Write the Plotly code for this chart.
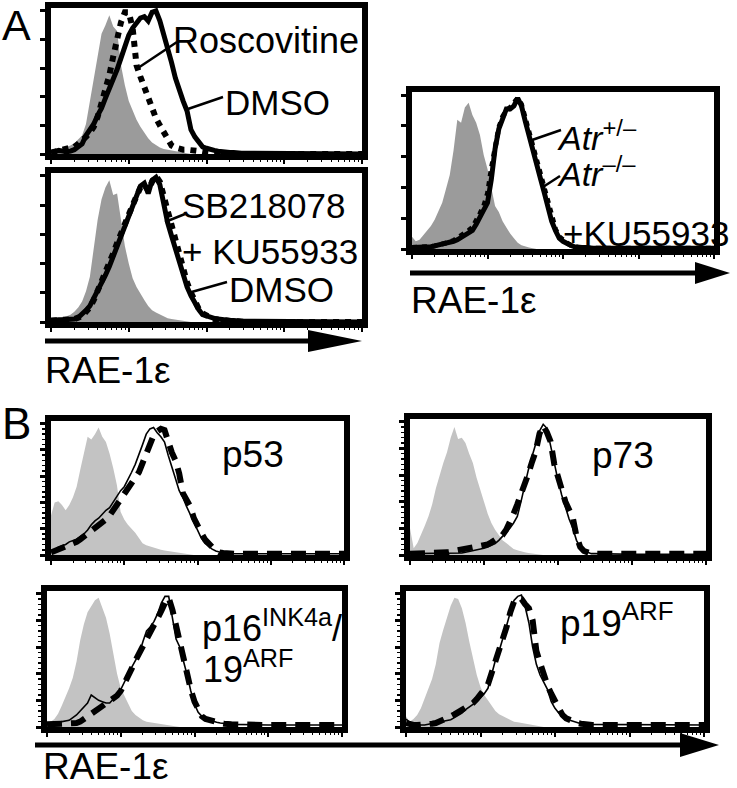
import math
import plotly.graph_objects as go

W, H = 737, 788
FONT = "Liberation Sans, Arial, sans-serif"

# ---------------- data (x = log10 RAE-1e fluorescence, y = % of max) ----------------
log_rae1e = [0.00, 0.05, 0.10, 0.15, 0.20, 0.25, 0.30, 0.35, 0.40, 0.45,
             0.50, 0.55, 0.60, 0.65, 0.70, 0.75, 0.80, 0.85, 0.90, 0.95,
             1.00, 1.05, 1.10, 1.15, 1.20, 1.25, 1.30, 1.35, 1.40, 1.45,
             1.50, 1.55, 1.60, 1.65, 1.70, 1.75, 1.80, 1.85, 1.90, 1.95,
             2.00, 2.05, 2.10, 2.15, 2.20, 2.25, 2.30, 2.35, 2.40, 2.45,
             2.50, 3.00, 4.00]

# Panel A, top: isotype / DMSO / Roscovitine
a1_isotype = [1, 2, 2.5, 3.5, 4.5, 6, 7.5, 10, 13, 21,
              37, 52, 68, 84, 90, 97, 89, 86, 62, 48,
              37, 30, 24, 19, 15, 11, 8, 6, 4.5, 3.5,
              3, 2, 1.5, 1, 0.5, 0, 0, 0, 0, 0,
              0, 0, 0, 0, 0, 0, 0, 0, 0, 0,
              0, 0, 0]
a1_dmso = [1, 2, 2.5, 2, 1.5, 2, 3, 5, 7, 13,
           17, 21, 27, 32, 39, 45, 51, 59, 67, 76,
           83, 88, 91, 95, 96, 93, 99, 100, 93, 84,
           75, 64, 53, 44, 37, 30, 17, 12, 8, 5,
           4, 3, 2.5, 2, 1.5, 1.5, 1, 1, 0.5, 0.5,
           0.5, 0.3, 0]
a1_roscovitine = [1, 1.5, 2, 2.5, 3, 4, 5, 7, 9, 12,
                  15, 19, 26, 35, 45, 55, 68, 81, 92, 99,
                  99, 88, 62, 54, 47, 38, 31, 25, 20, 15,
                  10, 6, 4.5, 3.5, 3, 3, 3, 2.5, 2, 1.5,
                  1, 1, 0.5, 0.5, 0.5, 0, 0, 0, 0, 0,
                  0, 0, 0]

# Panel A, bottom: isotype / DMSO / SB218078 + KU55933
a2_isotype = [1, 1.5, 2, 3, 4, 5, 7, 10, 14, 21,
              31, 50, 70, 84, 92, 97, 87, 88, 70, 52,
              40, 30, 24, 19, 15, 11, 8, 6.5, 5, 3.5,
              2.5, 2, 1.5, 1, 0.5, 0, 0, 0, 0, 0,
              0, 0, 0, 0, 0, 0, 0, 0, 0, 0,
              0, 0, 0]
a2_dmso = [1, 1.5, 1.5, 1.5, 1.5, 1.5, 2, 3, 5, 8,
           11, 16, 22, 27, 32, 38, 45, 52, 59, 65,
           73, 81, 88, 93, 95, 88, 97, 99, 94, 79,
           68, 59, 50, 42, 32, 24, 18, 13, 8.5, 5,
           4, 3, 2.5, 2, 1.5, 1.5, 1, 1, 0.5, 0.5,
           0.5, 0.3, 0]
a2_sb_ku = [1, 1, 1, 1, 1.5, 1.5, 2, 3, 4, 7,
            10, 15, 21, 27, 33, 40, 47, 54, 61, 67,
            73, 80, 86, 92, 94, 90, 96, 100, 96, 86,
            76, 64, 54, 44, 35, 27, 20, 14, 9, 6,
            4, 3, 2, 1.5, 1, 1, 0.5, 0.5, 0.5, 0,
            0, 0, 0]

# Panel A, right: isotype / Atr+/- / Atr-/- + KU55933
a3_isotype = [8, 5, 6, 9, 12, 15, 19, 24, 30, 39,
              48, 64, 84, 82, 92, 95, 87, 82, 74, 61,
              52, 40, 28, 24, 18, 14, 10, 7, 4, 2.5,
              1.5, 1, 0.5, 0, 0, 0, 0, 0, 0, 0,
              0, 0, 0, 0, 0, 0, 0, 0, 0, 0,
              0, 0, 0]
a3_atr_het = [1, 1, 1, 1, 1.5, 1.5, 2, 2.5, 3, 3.5,
              4, 5, 6, 7.5, 9, 10.5, 12, 16, 21, 25,
              30, 45, 65, 78, 85, 91, 91, 93, 98, 93,
              83, 73, 63, 54, 46, 37, 27, 18, 12, 7,
              5, 3.5, 2.5, 1.5, 1, 1, 1, 0.5, 0.5, 0.5,
              0.5, 0.5, 0.5]
a3_atr_ko_ku = [1, 1, 1, 1, 1.5, 1.5, 2, 2.5, 3, 3.5,
                4.5, 5.5, 7, 8.5, 10, 12, 14, 18, 23, 28,
                36, 52, 68, 79, 86, 90, 92, 95, 98, 94,
                85, 75, 65, 56, 48, 39, 29, 20, 13, 8,
                5.5, 4, 2.5, 1.5, 1, 1, 0.5, 0.5, 0.5, 0.5,
                0.5, 0.5, 0.5]

# Panel B: p53
p53_isotype = [30, 40, 41, 38, 34, 38, 44, 52, 65, 78,
               90, 88, 92, 97, 90, 86, 77, 66, 53, 33,
               27, 23, 20, 17, 13, 9, 7.5, 6.5, 5.5, 5,
               4, 3.5, 3, 2.5, 2, 1.5, 1, 0.5, 0, 0,
               0, 0, 0, 0, 0, 0, 0, 0, 0, 0,
               0, 0, 0]
p53_solid = [3, 4, 6, 7, 8, 10, 11, 12, 14, 16,
             19, 23, 26, 28, 31, 34, 36, 40, 44, 49,
             52, 57, 63, 69, 76, 84, 92, 96, 97, 93,
             90, 86, 76, 66, 58, 49, 44, 37, 31, 25,
             19, 13, 9, 6.5, 4.5, 3, 2, 1.5, 1, 1,
             1, 1, 1]
p53_dashed = [2, 3, 4, 5, 6, 7, 9, 10, 12, 14,
              16, 18, 20, 22, 24, 27, 30, 34, 38, 41,
              45, 49, 53, 57, 63, 70, 78, 86, 91, 94,
              96, 95, 86, 78, 72, 62, 47, 43, 37, 28,
              21, 17, 12, 8, 6, 4, 2, 1.5, 1, 1,
              1, 1, 1]

# Panel B: p16INK4a/19ARF
p16_isotype = [3, 4, 6, 10, 16, 22, 29, 37, 49, 65,
               77, 86, 91, 95, 97, 89, 82, 70, 55, 40,
               29, 23, 17, 12, 9, 7, 5, 4, 3.5, 3,
               2.5, 2, 1.5, 1, 0.5, 0, 0, 0, 0, 0,
               0, 0, 0, 0, 0, 0, 0, 0, 0, 0,
               0, 0, 0]
p16_solid = [3, 3.5, 3.5, 3.5, 4, 4.5, 5, 7, 9, 12,
             15, 18, 24, 22, 20, 19, 18, 18, 21, 24,
             28, 34, 39, 45, 50, 55, 64, 72, 75, 79,
             85, 93, 98, 98, 82, 66, 60, 50, 39, 27,
             17, 11, 8, 6, 5, 4, 3.5, 3, 2.5, 2,
             2, 1.5, 1.5]
p16_dashed = [2, 2, 2, 2, 2, 2, 2, 2.5, 3, 4,
              6, 8, 10, 12, 14, 16, 18, 20, 22, 23.5,
              27, 32, 37, 44, 50, 55, 61, 67, 72, 76,
              80, 87, 93, 97, 88, 75, 62, 51, 41, 28,
              19, 12, 8, 6, 5, 4, 3.5, 3, 2.5, 2,
              2, 1.5, 1.5]

# Panel B: p73
p73_isotype = [20, 5, 9, 15, 22, 29, 38, 50, 60, 69,
               77, 88, 96, 87, 88, 84, 76, 69, 58, 48,
               40, 31, 24, 19, 15, 11, 9, 6.5, 4.5, 3.5,
               2.5, 2, 1.5, 1, 0.5, 0, 0, 0, 0, 0,
               0, 0, 0, 0, 0, 0, 0, 0, 0, 0,
               0, 0, 0]
p73_solid = [1, 1, 1, 1, 1, 1, 1, 1, 1, 1,
             1, 1, 1, 1.5, 1.5, 2, 2.5, 3, 3.5, 4,
             5, 6, 7, 8.5, 11, 14, 17, 20, 24, 29,
             40, 53, 64, 74, 83, 93, 98, 95, 82, 68,
             56, 45, 36, 27, 20, 11, 6, 3, 2, 1,
             1, 0.5, 0.5]
p73_dashed = [1, 1, 1.5, 2, 2, 1.5, 1.5, 1.5, 1.5, 1.5,
              2, 2.5, 3, 3, 3.5, 4, 4.5, 5, 6, 6.5,
              7, 8, 9.5, 11, 13, 15, 19, 24, 31, 38,
              45, 53, 61, 70, 78, 91, 97, 92, 85, 68,
              58, 48, 40, 34, 28, 14, 6, 3, 1.5, 1,
              1, 1, 1]

# Panel B: p19ARF
p19_isotype = [8, 4, 6, 9, 14, 21, 28, 36, 47, 63,
               73, 82, 91, 97, 96, 89, 78, 64, 52, 39,
               30, 24, 20, 16, 12, 9.5, 8, 6.5, 5, 4,
               3.5, 3, 2, 1.5, 1, 0.5, 0, 0, 0, 0,
               0, 0, 0, 0, 0, 0, 0, 0, 0, 0,
               0, 0, 0]
p19_solid = [6, 3.5, 2, 1.5, 1.5, 1.5, 2, 2.5, 3, 3.5,
             4, 4.5, 5.5, 7, 8.5, 10.5, 13, 15, 17, 19,
             22, 25, 29, 39, 50, 57, 66, 76, 86, 95,
             98, 99, 90, 78, 60, 47, 39, 33, 28, 19,
             14, 10.5, 8, 6, 5, 4, 3, 2.5, 2, 2,
             1.5, 1.5, 1.5]
p19_dashed = [3, 2, 1.5, 1.5, 1.5, 1.5, 2, 2.5, 3, 4,
              5, 6.5, 8, 9.5, 11, 12.5, 14, 15.5, 18, 21,
              24, 28, 32, 40, 48, 56, 65, 75, 86, 94,
              97, 96, 92, 89, 80, 57, 48, 39, 31, 25,
              19, 13, 9, 6.5, 5, 4, 3, 2.5, 2, 1.5,
              1.5, 1.5, 1.5]

y_ticks = [0, 20, 40, 60, 80, 100]
x_decades = [0, 1, 2, 3, 4]

# ---------------- layout helpers ----------------
def fx(p):
    return p / W

def fy(p):
    return 1 - p / H

GREY_A = "#9b9b9b"
GREY_B = "#c3c3c3"

# (key, inner box l, r, t, b, isotype, solid, broken, style)
panels = [
    ("a1", 51, 362, 8, 154, a1_isotype, a1_dmso, a1_roscovitine, "A"),
    ("a2", 51, 362, 173, 322, a2_isotype, a2_dmso, a2_sb_ku, "A"),
    ("a3", 412, 714, 92, 249, a3_isotype, a3_atr_het, a3_atr_ko_ku, "A3"),
    ("p53", 51, 344, 421, 555, p53_isotype, p53_solid, p53_dashed, "B"),
    ("p16", 47, 342, 591, 727, p16_isotype, p16_solid, p16_dashed, "B"),
    ("p73", 410, 706, 419, 555, p73_isotype, p73_solid, p73_dashed, "B"),
    ("p19", 406, 704, 591, 727, p19_isotype, p19_solid, p19_dashed, "B"),
]

for arr in [a1_isotype, a1_dmso, a1_roscovitine, a2_isotype, a2_dmso, a2_sb_ku,
            a3_isotype, a3_atr_het, a3_atr_ko_ku, p53_isotype, p53_solid, p53_dashed,
            p16_isotype, p16_solid, p16_dashed, p73_isotype, p73_solid, p73_dashed,
            p19_isotype, p19_solid, p19_dashed]:
    assert len(arr) == len(log_rae1e), len(arr)

minor_x = [d + math.log10(k) for d in range(4) for k in range(2, 10)]
minor_y = [v for v in range(0, 101, 4) if v % 20 != 0]

fig = go.Figure()
layout = {}
for i, (key, l, r, t, b, iso, solid, broken, style) in enumerate(panels):
    n = "" if i == 0 else str(i + 1)
    xa, ya = "x" + n, "y" + n
    fig.add_trace(go.Scatter(x=log_rae1e, y=iso, mode="lines", fill="tozeroy",
                             fillcolor=GREY_A if style != "B" else GREY_B,
                             line=dict(width=0), xaxis=xa, yaxis=ya, hoverinfo="skip"))
    if style == "B":
        fig.add_trace(go.Scatter(x=log_rae1e, y=broken, mode="lines",
                                 line=dict(color="black", width=6, dash="15px,9px"),
                                 xaxis=xa, yaxis=ya))
        fig.add_trace(go.Scatter(x=log_rae1e, y=solid, mode="lines",
                                 line=dict(color="black", width=1.6),
                                 xaxis=xa, yaxis=ya))
    else:
        fig.add_trace(go.Scatter(x=log_rae1e, y=solid, mode="lines",
                                 line=dict(color="black", width=5),
                                 xaxis=xa, yaxis=ya))
        fig.add_trace(go.Scatter(x=log_rae1e, y=broken, mode="lines",
                                 line=dict(color="black", width=6 if style == "A" else 5, dash="dot"),
                                 xaxis=xa, yaxis=ya))
    minor_yax = dict(tickvals=minor_y, ticks="outside", ticklen=3, tickwidth=1.5,
                     tickcolor="black") if style == "B" else dict(ticks="")
    layout["xaxis" + n] = dict(domain=[fx(l), fx(r)], range=[0, 4], anchor=ya,
                               showline=True, linewidth=6, linecolor="black", mirror=True,
                               ticks="outside", tickvals=x_decades, ticklen=4, tickwidth=2,
                               tickcolor="black", showticklabels=False, showgrid=False,
                               zeroline=False,
                               minor=dict(tickvals=minor_x, ticks="outside", ticklen=2,
                                          tickwidth=1, tickcolor="black"))
    layout["yaxis" + n] = dict(domain=[fy(b), fy(t)], range=[0, 102], anchor=xa,
                               showline=True, linewidth=6, linecolor="black", mirror=True,
                               ticks="outside", tickvals=y_ticks, ticklen=5, tickwidth=3,
                               tickcolor="black", showticklabels=False, showgrid=False,
                               zeroline=False, minor=minor_yax)

# ---------------- text ----------------
annotations = []

def txt(text, x, y, size, xanchor="left", yanchor="middle"):
    annotations.append(dict(text=text, x=fx(x), y=fy(y), xref="paper", yref="paper",
                            xanchor=xanchor, yanchor=yanchor, showarrow=False, borderpad=0,
                            font=dict(family=FONT, size=size, color="black")))

txt("A", 1, 0, 43, yanchor="top")
txt("B", 1, 424, 44)
txt("Roscovitine", 172, 40, 36)
txt("DMSO", 224, 102, 35)
txt("SB218078", 181, 205, 35)
txt("+ KU55933", 181, 252, 35)
txt("DMSO", 228, 289, 35)
txt("RAE-1ε", 44, 370, 37)
txt("<i>Atr</i><sup>+/–</sup>", 556, 136, 34)
txt("<i>Atr</i><sup>–/–</sup>", 556, 171, 34)
txt("+KU55933", 562, 233, 35)
txt("RAE-1ε", 410, 301, 37)
txt("p53", 221, 454, 37)
txt("p73", 591, 456, 37)
txt("p16<sup>INK4a</sup>/", 201, 626, 36)
txt("19<sup>ARF</sup>", 202, 667, 36)
txt("p19<sup>ARF</sup>", 559, 620, 37)
txt("RAE-1ε", 42, 788, 37, yanchor="bottom")

# ---------------- leader lines & arrows ----------------
shapes = []

def seg(x0, y0, x1, y1, w=2.5):
    shapes.append(dict(type="line", xref="paper", yref="paper", x0=fx(x0), y0=fy(y0),
                       x1=fx(x1), y1=fy(y1), line=dict(color="black", width=w)))

seg(138, 68, 177, 42)
seg(185, 110, 223, 97)
seg(165, 222, 185, 214)
seg(188, 293, 227, 282)
seg(532, 140, 561, 130)
seg(543, 187, 560, 176)

def arrow(x0, xbase, xtip, y, half, lw):
    shapes.append(dict(type="line", xref="paper", yref="paper", x0=fx(x0), y0=fy(y),
                       x1=fx(xbase + 2), y1=fy(y), line=dict(color="black", width=lw)))
    shapes.append(dict(type="path", xref="paper", yref="paper",
                       path=f"M {fx(xbase)},{fy(y - half)} L {fx(xtip)},{fy(y)} L {fx(xbase)},{fy(y + half)} Z",
                       fillcolor="black", line=dict(width=0)))

arrow(45, 308, 362, 341, 11, 5)
arrow(410, 695, 730, 273, 11, 5)
arrow(35, 680, 719, 745, 12, 5)

fig.update_layout(width=W, height=H, margin=dict(l=0, r=0, t=0, b=0),
                  paper_bgcolor="white", plot_bgcolor="white", showlegend=False,
                  annotations=annotations, shapes=shapes, **layout)

fig.write_html("out.html", config={"displayModeBar": False, "staticPlot": True},
               post_script="document.body.style.margin='0';document.body.style.overflow='hidden';")
